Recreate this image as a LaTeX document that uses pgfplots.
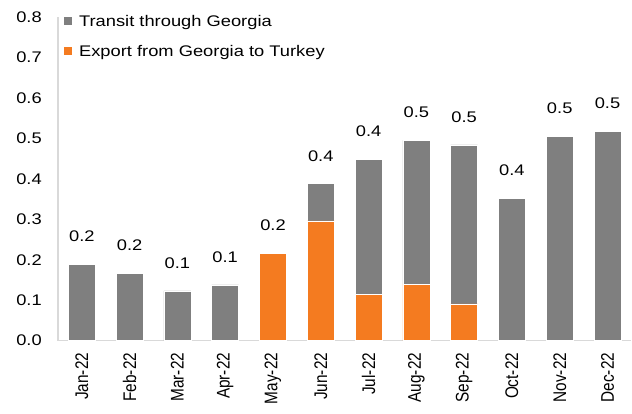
\documentclass[border=0pt]{standalone}
\usepackage{pgfplots}
\pgfplotsset{compat=1.18}
\usepackage{pgfplotstable}
\usepackage{fontspec}
\setmainfont{Liberation Sans}[FakeStretch=1.19]
\newfontfamily\rotfont{Liberation Sans}[FakeStretch=0.84]
\definecolor{trgray}{HTML}{7F7F7F}
\definecolor{exorange}{HTML}{F47B20}
\definecolor{axgray}{HTML}{D9D9D9}
\newcommand{\chartfont}{\fontsize{15.4bp}{18bp}\selectfont}
\newcommand{\rotsize}{\fontsize{18.3bp}{21bp}\selectfont}

% monthly volumes, export stacked under transit; total carries the label
\pgfplotstableread{
x  export transit total label
0  0      0.188   0.188 0.2
1  0      0.167   0.167 0.2
2  0      0.123   0.123 0.1
3  0      0.138   0.138 0.1
4  0.216  0       0.216 0.2
5  0.296  0.092   0.388 0.4
6  0.114  0.335   0.449 0.4
7  0.140  0.355   0.495 0.5
8  0.091  0.393   0.484 0.5
9  0      0.351   0.351 0.4
10 0      0.505   0.505 0.5
11 0      0.517   0.517 0.5
}\datatable

\pgfplotsset{frame/.style={scale only axis, width=574bp, height=324bp,
  xmin=-0.5, xmax=11.5, ymin=0, ymax=0.8}}

\begin{document}
\begin{tikzpicture}
\begin{axis}[
  frame,
  ybar stacked, bar width=27bp,
  axis x line=bottom, axis y line=left,
  axis line style={axgray, line width=1.2bp, -},
  major tick length=0pt,
  xtick=data,
  xticklabels={Jan-22,Feb-22,Mar-22,Apr-22,May-22,Jun-22,Jul-22,Aug-22,Sep-22,Oct-22,Nov-22,Dec-22},
  xticklabel style={rotate=90, anchor=east, inner sep=0pt, font=\rotfont\rotsize},
  xticklabel shift=12bp,
  ytick={0,0.1,0.2,0.3,0.4,0.5,0.6,0.7,0.8},
  yticklabel style={inner sep=0pt, font=\chartfont},
  yticklabel shift=16bp,
  /pgf/number format/fixed, /pgf/number format/fixed zerofill,
  /pgf/number format/precision=1, /pgf/number format/assume math mode=true,
  reverse legend,
  legend image code/.code={\fill[#1, draw=none] (0bp,-4bp) rectangle (8bp,4bp);},
  legend style={draw=none, fill=none, at={(rel axis cs:0,1)}, anchor=north west,
    xshift=6bp, yshift=1.5bp, row sep=18.5bp, column sep=7bp, inner sep=0pt,
    font=\chartfont, nodes={inner sep=0pt, text depth=0pt}},
  legend cell align=left,
]
\addplot[fill=exorange, draw=white, line width=0.6bp] table[x=x, y=export] {\datatable};
\addlegendentry{Export from Georgia to Turkey}
\addplot[fill=trgray, draw=white, line width=0.6bp] table[x=x, y=transit] {\datatable};
\addlegendentry{Transit through Georgia}
\end{axis}
\begin{axis}[frame, hide axis, clip=false]
\addplot[only marks, mark=none,
  nodes near coords, point meta=explicit symbolic,
  every node near coord/.append style={font=\chartfont, text=black, inner sep=0pt, anchor=center, yshift=28bp}]
  table[x=x, y=total, meta=label] {\datatable};
\end{axis}
\path (current axis.south west) ++(-58bp,-73bp) rectangle ++(632bp,414bp);
\end{tikzpicture}
\end{document}
